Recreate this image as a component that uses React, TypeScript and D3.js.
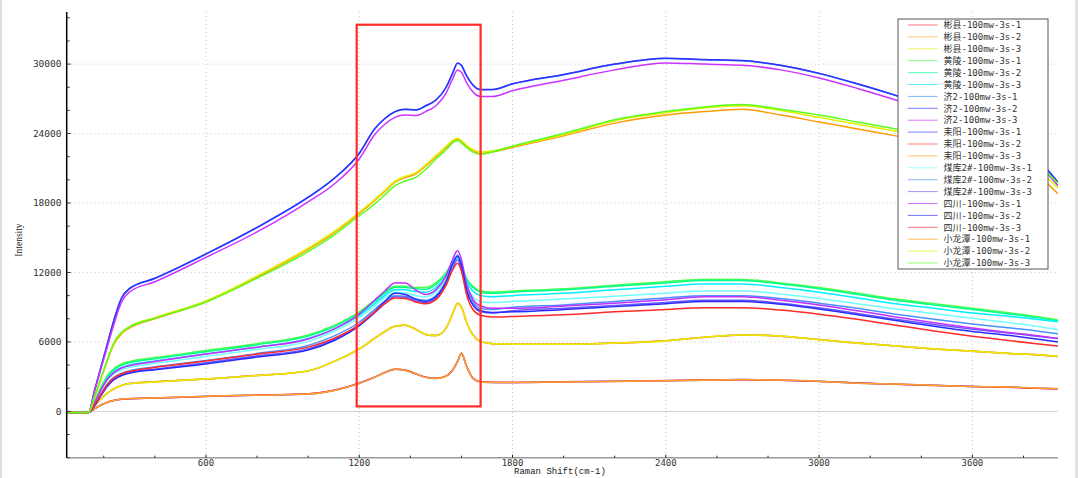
import React from 'react';
import * as d3 from 'd3';

const W = 1078;
const H = 478;

// Raman shift sample positions (cm-1) shared by every series
const X = [55, 140, 165, 190, 215, 240, 270, 300, 400, 600, 800, 1000, 1100, 1200, 1260, 1300, 1340, 1380, 1420, 1460, 1500, 1540, 1565, 1585, 1600, 1620, 1645, 1675, 1720, 1800, 2000, 2200, 2400, 2550, 2700, 2850, 3000, 3150, 3300, 3450, 3600, 3750, 3850, 3935];

const SERIES_NAMES = [
  '彬县-100mw-3s-1', '彬县-100mw-3s-2', '彬县-100mw-3s-3',
  '黄陵-100mw-3s-1', '黄陵-100mw-3s-2', '黄陵-100mw-3s-3',
  '济2-100mw-3s-1', '济2-100mw-3s-2', '济2-100mw-3s-3',
  '耒阳-100mw-3s-1', '耒阳-100mw-3s-2', '耒阳-100mw-3s-3',
  '煤库2#-100mw-3s-1', '煤库2#-100mw-3s-2', '煤库2#-100mw-3s-3',
  '四川-100mw-3s-1', '四川-100mw-3s-2', '四川-100mw-3s-3',
  '小龙潭-100mw-3s-1', '小龙潭-100mw-3s-2', '小龙潭-100mw-3s-3',
];

const SERIES_COLORS = [
  '#ff3030', '#ffaa3a', '#e6ee00',
  '#44ff44', '#00ff90', '#00eeff',
  '#3c8cff', '#2f2fff', '#cc33ff',
  '#3838ff', '#ff3a3a', '#ffa030',
  '#70ffff', '#4a90ff', '#6a5cff',
  '#c030ff', '#2a2aff', '#ff2a2a',
  '#ff9a00', '#e0f000', '#5aff20',
];

const binxian1 = [-100, -100, 500, 1100, 1600, 1950, 2250, 2400, 2550, 2800, 3100, 3500, 4300, 5400, 6300, 6900, 7350, 7450, 7100, 6650, 6550, 7200, 8400, 9350, 9000, 7700, 6600, 6050, 5850, 5800, 5800, 5900, 6100, 6400, 6600, 6500, 6200, 5900, 5650, 5400, 5200, 5000, 4900, 4750];
const binxian2 = [-100, -100, 520, 1120, 1580, 1960, 2240, 2410, 2560, 2790, 3110, 3490, 4320, 5380, 6320, 6880, 7360, 7440, 7110, 6640, 6560, 7190, 8420, 9300, 9050, 7680, 6610, 6040, 5860, 5790, 5810, 5890, 6110, 6390, 6610, 6490, 6210, 5890, 5660, 5390, 5210, 4990, 4910, 4740];
const binxian3 = [-100, -100, 490, 1090, 1610, 1940, 2260, 2390, 2540, 2810, 3090, 3510, 4290, 5420, 6290, 6910, 7340, 7460, 7090, 6660, 6540, 7210, 8390, 9320, 9020, 7710, 6590, 6060, 5840, 5810, 5790, 5910, 6090, 6410, 6590, 6510, 6190, 5910, 5640, 5410, 5190, 5010, 4890, 4760];

const huangling1 = [-100, -100, 900, 2100, 3100, 3700, 4100, 4300, 4650, 5250, 5850, 6600, 7400, 8600, 9600, 10300, 10800, 10800, 10700, 10700, 11100, 12000, 12900, 13300, 12700, 11500, 10800, 10400, 10300, 10400, 10600, 10900, 11200, 11400, 11400, 11100, 10700, 10200, 9700, 9300, 8900, 8500, 8200, 7900];
const huangling2 = [-100, -100, 850, 2000, 3000, 3600, 4000, 4200, 4550, 5150, 5750, 6500, 7300, 8500, 9500, 10200, 10700, 10700, 10600, 10550, 10950, 11900, 12800, 13250, 12600, 11400, 10700, 10300, 10200, 10300, 10500, 10800, 11100, 11300, 11300, 11000, 10600, 10100, 9600, 9200, 8800, 8400, 8100, 7800];
const huangling3 = [-100, -100, 800, 1900, 2850, 3450, 3800, 4000, 4350, 4950, 5550, 6300, 7100, 8300, 9300, 10000, 10500, 10500, 10350, 10300, 10700, 11700, 12800, 13300, 12600, 11200, 10400, 10000, 9900, 10000, 10200, 10500, 10800, 11000, 11000, 10700, 10300, 9800, 9300, 8900, 8500, 8200, 7950, 7750];

const ji2_1 = [-100, -100, 1880, 3880, 5880, 7880, 9780, 10580, 11480, 13580, 15880, 18480, 20080, 22280, 24380, 25280, 25880, 26080, 26030, 26380, 26880, 27980, 29180, 30080, 29880, 28980, 28180, 27780, 27780, 28280, 29080, 29980, 30480, 30380, 30280, 29880, 29180, 28280, 27280, 26180, 24980, 23480, 21880, 19780];
const ji2_2 = [-80, -100, 1900, 3900, 5900, 7900, 9800, 10600, 11500, 13600, 15900, 18500, 20100, 22300, 24400, 25300, 25900, 26100, 26050, 26400, 26900, 28000, 29200, 30100, 29900, 29000, 28200, 27800, 27800, 28300, 29100, 30000, 30500, 30400, 30300, 29900, 29200, 28300, 27300, 26200, 25000, 23500, 21900, 19800];
const ji2_3 = [-100, -100, 1800, 3750, 5650, 7550, 9450, 10300, 11200, 13300, 15500, 18100, 19600, 21800, 23900, 24800, 25400, 25600, 25550, 25900, 26400, 27500, 28700, 29500, 29300, 28400, 27600, 27200, 27200, 27700, 28600, 29500, 30100, 30000, 29900, 29500, 28800, 27900, 26900, 25800, 24600, 23100, 21500, 19500];

const leiyang1 = [-100, -100, 250, 550, 800, 950, 1050, 1100, 1150, 1300, 1400, 1500, 1800, 2450, 2950, 3350, 3650, 3550, 3250, 2950, 2850, 3050, 3550, 4350, 5000, 3900, 2850, 2550, 2500, 2500, 2550, 2600, 2650, 2700, 2750, 2700, 2600, 2450, 2350, 2250, 2150, 2100, 2000, 1950];
const leiyang2 = [-100, -100, 240, 560, 790, 960, 1040, 1100, 1160, 1290, 1410, 1520, 1820, 2430, 2960, 3360, 3640, 3570, 3260, 2960, 2860, 3060, 3560, 4300, 5050, 3920, 2870, 2560, 2510, 2490, 2560, 2590, 2660, 2710, 2740, 2690, 2590, 2460, 2340, 2240, 2160, 2090, 1990, 1940];
const leiyang3 = [-100, -100, 260, 540, 810, 940, 1060, 1110, 1150, 1310, 1400, 1510, 1790, 2440, 2940, 3340, 3660, 3540, 3240, 2940, 2840, 3040, 3540, 4320, 5020, 3880, 2840, 2540, 2490, 2510, 2540, 2610, 2640, 2690, 2760, 2710, 2610, 2440, 2360, 2260, 2140, 2110, 2010, 1960];

const meiku1 = [-100, -100, 750, 1800, 2700, 3250, 3600, 3800, 4150, 4750, 5350, 6050, 6900, 8100, 9100, 9800, 10300, 10250, 10000, 9900, 10300, 11400, 12600, 13200, 12400, 10900, 9900, 9500, 9400, 9500, 9700, 9950, 10200, 10400, 10400, 10150, 9750, 9300, 8850, 8450, 8050, 7650, 7350, 7050];
const meiku2 = [-100, -100, 600, 1550, 2400, 2950, 3300, 3500, 3850, 4400, 5000, 5700, 6500, 7700, 8800, 9500, 10000, 9950, 9700, 9600, 10000, 11300, 12700, 13500, 12700, 10800, 9500, 8900, 8800, 9000, 9200, 9500, 9800, 10000, 10000, 9750, 9350, 8900, 8400, 7950, 7550, 7200, 6950, 6700];
const meiku3 = [-100, -100, 550, 1450, 2250, 2800, 3150, 3350, 3650, 4200, 4800, 5400, 6200, 7400, 8500, 9300, 9900, 9850, 9550, 9400, 9800, 11000, 12300, 13100, 12300, 10400, 9200, 8600, 8500, 8700, 8900, 9150, 9400, 9600, 9600, 9350, 8950, 8450, 7950, 7500, 7100, 6750, 6500, 6300];

const sichuan1 = [-100, -100, 800, 1900, 2800, 3350, 3750, 3950, 4300, 4950, 5550, 6250, 7100, 8400, 9600, 10400, 11100, 11100, 10500, 10100, 10500, 11700, 13100, 13900, 13100, 11000, 9700, 9100, 8900, 8900, 9100, 9350, 9650, 9900, 9900, 9600, 9200, 8700, 8150, 7650, 7200, 6800, 6550, 6300];
const sichuan2 = [-100, -100, 500, 1400, 2200, 2750, 3100, 3300, 3600, 4100, 4700, 5300, 6100, 7400, 8600, 9500, 10200, 10100, 9700, 9500, 9900, 11200, 12700, 13400, 12600, 10500, 9200, 8700, 8550, 8600, 8800, 9050, 9300, 9500, 9500, 9250, 8850, 8350, 7850, 7350, 6900, 6550, 6250, 6000];
const sichuan3 = [-100, -100, 600, 1500, 2350, 2900, 3250, 3450, 3800, 4350, 4950, 5550, 6300, 7500, 8600, 9300, 9800, 9750, 9450, 9300, 9650, 10900, 12200, 12800, 12100, 10100, 8800, 8300, 8150, 8200, 8350, 8600, 8800, 8950, 8950, 8750, 8400, 7950, 7450, 6950, 6500, 6100, 5850, 5650];

const xlt1 = [-100, -100, 1250, 2850, 4400, 5800, 6700, 7200, 8000, 9450, 11600, 14000, 15400, 17100, 18200, 19000, 19800, 20200, 20500, 21200, 22000, 22800, 23300, 23500, 23300, 22900, 22500, 22300, 22400, 22800, 23800, 24900, 25600, 25900, 26100, 25600, 25000, 24400, 23800, 23200, 22500, 21600, 20500, 18800];
const xlt2 = [-100, -100, 1300, 2900, 4500, 5900, 6800, 7300, 8100, 9550, 11700, 14100, 15500, 17200, 18300, 19100, 19900, 20300, 20600, 21300, 22100, 22900, 23400, 23600, 23400, 23000, 22600, 22400, 22500, 22900, 23900, 25100, 25800, 26200, 26400, 26000, 25400, 24800, 24200, 23600, 22900, 22000, 21000, 19300];
const xlt3 = [-100, -100, 1350, 2950, 4550, 5950, 6850, 7300, 8050, 9450, 11500, 13800, 15200, 16900, 17900, 18700, 19500, 19900, 20200, 20900, 21800, 22600, 23200, 23400, 23200, 22800, 22400, 22200, 22400, 22900, 24000, 25200, 25900, 26300, 26500, 26100, 25600, 25000, 24400, 23900, 23200, 22300, 21400, 19700];

const SERIES_VALUES = [
  binxian1, binxian2, binxian3,
  huangling1, huangling2, huangling3,
  ji2_1, ji2_2, ji2_3,
  leiyang1, leiyang2, leiyang3,
  meiku1, meiku2, meiku3,
  sichuan1, sichuan2, sichuan3,
  xlt1, xlt2, xlt3,
];

const Y_TICKS = [0, 6000, 12000, 18000, 24000, 30000];
const Y_TICK_LABELS = ['0', '6000', '12000', '18000', '24000', '30000'];
const X_TICKS = [600, 1200, 1800, 2400, 3000, 3600];
const X_TICK_LABELS = ['600', '1200', '1800', '2400', '3000', '3600'];
const X_DOMAIN = [55, 3935];
const Y_DOMAIN = [-4000, 34500];
const HIGHLIGHT = { xFrom: 1190, xTo: 1675, yFrom: 430, yTo: 33400 };

export default function App() {
  const left = 66.7, right = 1058, top = 12, bottom = 457.7;
  const xs = d3.scaleLinear().domain(X_DOMAIN).range([left, right]);
  const ys = d3.scaleLinear().domain(Y_DOMAIN).range([bottom, top]);
  const line = d3.line<number>()
    .x((_, i) => xs(X[i]))
    .y((d) => ys(d))
    .curve(d3.curveMonotoneX);

  const yMinor = d3.range(-4000, 34001, 2000);
  const xMinor = d3.range(200, 3901, 200);
  const tickFont = '"DejaVu Sans Mono", "Liberation Mono", monospace';
  const legX = 898, legY = 19, legW = 150, legH = 250, rowH = 11.9;

  return (
    <svg width={W} height={H} style={{ position: 'absolute', left: 0, top: 0, background: '#fff' }}>
      <rect x={0} y={0} width={W} height={H} fill="#fff" />
      <rect x={0} y={0} width={2} height={H} fill="#dcdcdc" />
      <rect x={1075} y={0} width={3} height={H} fill="#e2e2e2" />
      <defs>
        <clipPath id="plotclip">
          <rect x={left} y={top} width={right - left} height={bottom - top} />
        </clipPath>
      </defs>
      {/* grid */}
      {Y_TICKS.map((t) => (
        <line key={'gy' + t} x1={left} x2={right} y1={ys(t)} y2={ys(t)}
          stroke={t === 0 ? '#d4d4d4' : '#c8c8c8'} strokeWidth={1}
          strokeDasharray={t === 0 ? undefined : '1,3'} />
      ))}
      {X_TICKS.map((t) => (
        <line key={'gx' + t} x1={xs(t)} x2={xs(t)} y1={top} y2={bottom}
          stroke="#c8c8c8" strokeWidth={1} strokeDasharray="1,3" />
      ))}
      {/* series */}
      <g clipPath="url(#plotclip)">
        {SERIES_VALUES.map((vals, i) => (
          <path key={SERIES_NAMES[i]} d={line(vals) || ''} fill="none"
            stroke={SERIES_COLORS[i]} strokeWidth={1.5} strokeLinejoin="round" />
        ))}
      </g>
      {/* highlight box */}
      <rect x={xs(HIGHLIGHT.xFrom)} y={ys(HIGHLIGHT.yTo)}
        width={xs(HIGHLIGHT.xTo) - xs(HIGHLIGHT.xFrom)}
        height={ys(HIGHLIGHT.yFrom) - ys(HIGHLIGHT.yTo)}
        fill="none" stroke="#ff2a2a" strokeWidth={2.2} />
      {/* axes */}
      <line x1={left} x2={right} y1={bottom} y2={bottom} stroke="#9a9a9a" strokeWidth={1.6} />
      <line x1={left} x2={left} y1={top} y2={bottom} stroke="#000" strokeWidth={1.5} />
      {yMinor.map((t) => (
        <line key={'ym' + t} x1={left} x2={left + (t % 6000 === 0 ? 4 : 3)} y1={ys(t)} y2={ys(t)} stroke="#333" strokeWidth={1} />
      ))}
      {xMinor.map((t) => (
        <line key={'xm' + t} x1={xs(t)} x2={xs(t)} y1={bottom} y2={bottom - (t % 600 === 0 ? 3 : 2)} stroke="#222" strokeWidth={1} />
      ))}
      {Y_TICKS.map((t, i) => (
        <text key={'yl' + t} x={61.5} y={ys(t) + 3.2} textAnchor="end" fontFamily={tickFont} fontSize={9.5} fill="#333">{Y_TICK_LABELS[i]}</text>
      ))}
      {X_TICKS.map((t, i) => (
        <text key={'xl' + t} x={xs(t)} y={466} textAnchor="middle" fontFamily={tickFont} fontSize={9} fill="#333">{X_TICK_LABELS[i]}</text>
      ))}
      <text x={514} y={474} fontFamily='"Liberation Mono", monospace' fontSize={9} fill="#222">Raman Shift(cm-1)</text>
      <text transform="translate(22,240) rotate(-90)" textAnchor="middle" fontFamily='"Liberation Serif", serif' fontSize={9.5} fill="#222">Intensity</text>
      {/* legend */}
      <rect x={legX} y={legY} width={legW} height={legH} fill="#fff" stroke="#555" strokeWidth={1} />
      {SERIES_NAMES.map((name, i) => {
        const cy = legY + 6 + i * rowH;
        return (
          <g key={'lg' + name}>
            <line x1={907.7} x2={937.7} y1={cy} y2={cy} stroke={SERIES_COLORS[i]} strokeWidth={1} strokeOpacity={0.65} />
            <text x={943.5} y={cy + 3.2} fontFamily='"DejaVu Sans Mono", "Noto Sans CJK SC", monospace' fontSize={9} fill="#333">{name}</text>
          </g>
        );
      })}
    </svg>
  );
}
